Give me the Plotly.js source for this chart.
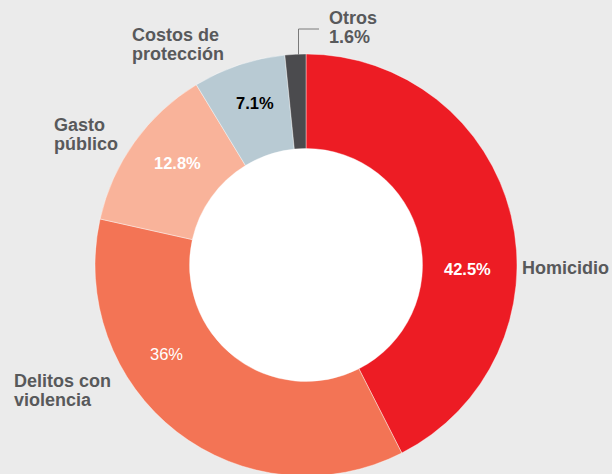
<!DOCTYPE html>
<html>
<head>
<meta charset="utf-8">
<script src="https://cdn.plot.ly/plotly-3.0.1.min.js"></script>
<style>html,body{margin:0;padding:0;background:#ebebeb;overflow:hidden;}#chart{width:612px;height:476px;}</style>
</head>
<body>
<div id="chart"></div>
<script>
const categories = ["Homicidio", "Delitos con violencia", "Gasto público", "Costos de protección", "Otros"];
const labelLines = [["Homicidio"], ["Delitos con", "violencia"], ["Gasto", "público"], ["Costos de", "protección"], ["Otros"]];
const values = [42.5, 36, 12.8, 7.1, 1.6];
const percentLabels = ["42.5%", "36%", "12.8%", "7.1%", "1.6%"];
const colors = ["#ed1c24", "#f37455", "#f9b39a", "#b8cad3", "#4b4b4e"];

const W = 612, H = 476;
const px = x => x / W;
const py = y => 1 - y / H;

// label placement (pixels): [left, first line centre y]
const labelPos = [[520, 268], [12, 381], [52, 125], [130, 35], [327, 18]];
const lineGap = 19;
// percent placement (pixels): [centre x, centre y], colour, weight
const pctPos = [[468, 269], [166, 354], [177, 163], [255, 103], null];
const pctColor = ["#ffffff", "#ffffff", "#ffffff", "#000000", null];
const pctWeight = ["bold", "normal", "bold", "bold", null];

const labelFont = {family: "Liberation Sans, Arial, sans-serif", size: 18, color: "#58595b", weight: "bold"};
const annotations = [];
categories.forEach((c, i) => {
  const lines = labelLines[i].slice();
  if (i === 4) lines.push(percentLabels[i]);
  lines.forEach((t, k) => {
    annotations.push({
      text: "<b>" + t + "</b>", showarrow: false, xref: "paper", yref: "paper",
      x: px(labelPos[i][0]), y: py(labelPos[i][1] + k * lineGap),
      xanchor: "left", yanchor: "middle", font: labelFont
    });
  });
  if (pctPos[i]) {
    annotations.push({
      text: pctWeight[i] === "bold" ? "<b>" + percentLabels[i] + "</b>" : percentLabels[i],
      showarrow: false, xref: "paper", yref: "paper",
      x: px(pctPos[i][0]), y: py(pctPos[i][1]), xanchor: "center", yanchor: "middle",
      font: {family: "Liberation Sans, Arial, sans-serif", size: 16.5, color: pctColor[i]}
    });
  }
});

const data = [{
  type: "pie",
  labels: categories,
  values: values,
  sort: false,
  direction: "clockwise",
  rotation: 0,
  hole: 0.552,
  textinfo: "none",
  marker: {colors: colors, line: {color: "#ffffff", width: 0.4}},
  domain: {x: [95 / W, 517 / W], y: [0, 422 / H]},
  showlegend: false,
  hoverinfo: "label+percent"
}];

// white disc behind the donut hole
const cx = 306, cy = 265, rHole = 118;

const layout = {
  width: W, height: H,
  margin: {l: 0, r: 0, t: 0, b: 0},
  paper_bgcolor: "#ebebeb",
  plot_bgcolor: "#ebebeb",
  showlegend: false,
  annotations: annotations,
  shapes: [{
    type: "circle", xref: "paper", yref: "paper", layer: "below",
    x0: px(cx - rHole), x1: px(cx + rHole), y0: py(cy + rHole), y1: py(cy - rHole),
    fillcolor: "#ffffff", line: {width: 0}
  }, {
    type: "path", xref: "paper", yref: "paper",
    path: "M " + px(298.5) + "," + py(55) + " L " + px(298.5) + "," + py(29) + " L " + px(319) + "," + py(29),
    line: {color: "#7a7a7a", width: 1}
  }]
};

Plotly.newPlot("chart", data, layout, {displayModeBar: false, staticPlot: true});
</script>
</body>
</html>
